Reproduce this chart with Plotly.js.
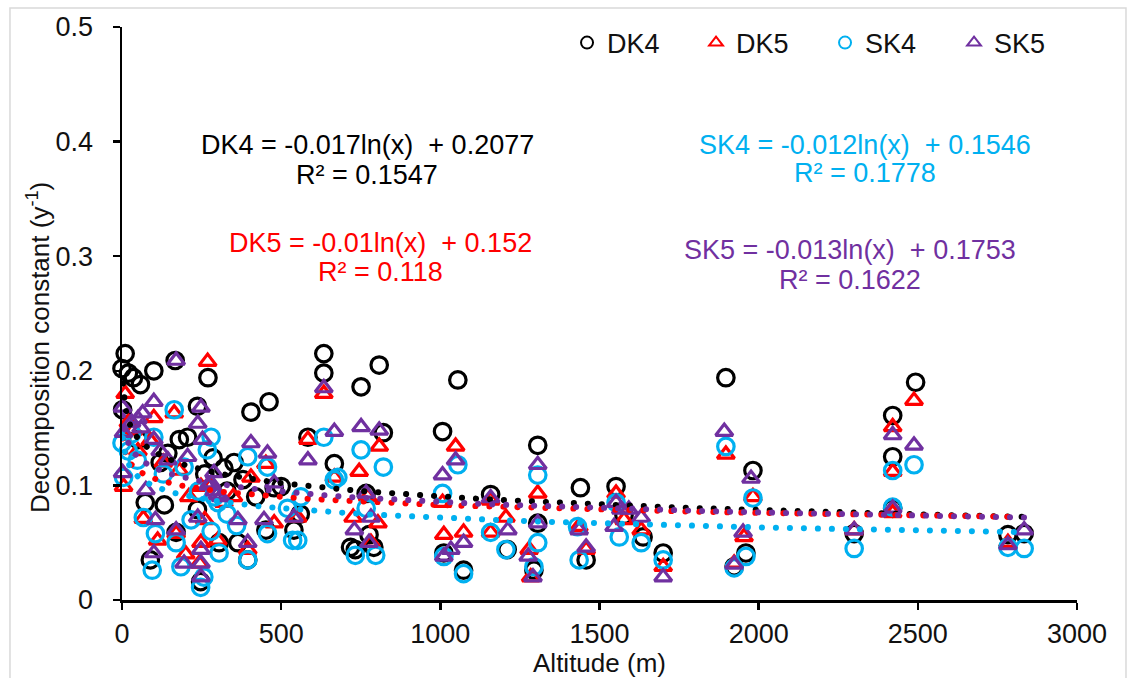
<!DOCTYPE html>
<html>
<head>
<meta charset="utf-8">
<script src="https://cdn.plot.ly/plotly-3.0.1.min.js"></script>
<style>
  html, body { margin: 0; padding: 0; background: #fff; }
  #plot { width: 1131px; height: 678px; }
  .scatterlayer .js-line { stroke-linecap: round; }
</style>
</head>
<body>
<div id="plot"></div>
<script>
// altitude (m) and decomposition constant (y-1)
var dk4Alt = [10,0,20,36,58,100,167,270,237,405,462,634,634,2,206,584,667,352,144,73,89,170,237,247,305,364,395,452,540,500,286,718,133,50,120,180,260,320,330,380,420,560,478,
  751,808,1055,1007,1306,821,767,1158,1440,733,791,1011,1073,1210,1294,1306,776,
  1552,1577,1637,1700,1897,1982,1923,1960,1458,
  2493,2421,2421,2300,2783,2834,2421];
var dk4K = [0.215,0.202,0.198,0.194,0.188,0.200,0.209,0.194,0.169,0.164,0.173,0.215,0.198,0.166,0.142,0.142,0.119,0.120,0.128,0.085,0.035,0.059,0.079,0.016,0.050,0.050,0.035,0.061,0.061,0.099,0.124,0.046,0.083,0.140,0.120,0.140,0.110,0.115,0.095,0.105,0.090,0.075,0.098,
  0.186,0.205,0.192,0.147,0.135,0.146,0.093,0.092,0.098,0.044,0.046,0.041,0.026,0.044,0.026,0.067,0.057,
  0.099,0.074,0.055,0.041,0.194,0.113,0.029,0.041,0.035,
  0.190,0.161,0.125,0.058,0.057,0.058,0.080];

var dk5Alt = [269,10,164,100,5,67,112,248,405,452,584,667,180,89,478,170,243,301,395,634,552,248,36,20,50,130,210,280,320,350,200,260,
  1048,745,808,1007,726,772,804,1206,1158,1306,1011,1073,1279,1284,782,1158,1435,
  1552,1897,1982,1954,1458,1631,1700,1577,1923,
  2488,2421,2421,2300,2783,2421];
var dk5K = [0.208,0.180,0.163,0.159,0.099,0.071,0.052,0.050,0.107,0.119,0.140,0.107,0.113,0.139,0.067,0.058,0.032,0.052,0.044,0.180,0.072,0.099,0.148,0.155,0.130,0.120,0.090,0.100,0.085,0.090,0.040,0.070,
  0.134,0.112,0.134,0.085,0.072,0.090,0.067,0.072,0.059,0.093,0.057,0.059,0.044,0.020,0.050,0.087,0.064,
  0.093,0.127,0.090,0.055,0.044,0.061,0.029,0.070,0.032,
  0.174,0.151,0.112,0.061,0.050,0.076];

var sk4Alt = [164,100,0,5,48,67,105,95,170,185,247,257,280,268,195,395,457,301,457,536,552,634,667,305,395,217,562,20,30,130,240,290,330,360,280,520,
  751,821,1007,1055,1306,767,1158,1206,1306,1294,733,797,1011,1073,1431,678,1436,
  1897,1982,1960,1923,1552,1562,1631,1700,
  2488,2421,2421,2300,2783,2834];
var sk4K = [0.166,0.142,0.137,0.107,0.122,0.072,0.058,0.026,0.050,0.029,0.011,0.020,0.142,0.131,0.116,0.125,0.116,0.085,0.058,0.052,0.052,0.142,0.105,0.041,0.035,0.070,0.090,0.130,0.145,0.110,0.095,0.090,0.075,0.065,0.060,0.080,
  0.131,0.116,0.093,0.118,0.109,0.080,0.059,0.044,0.050,0.029,0.039,0.039,0.038,0.023,0.064,0.107,0.035,
  0.134,0.089,0.038,0.028,0.085,0.055,0.050,0.035,
  0.118,0.113,0.081,0.045,0.046,0.045];

var sk5Alt = [170,100,248,238,65,2,100,253,405,457,5,2,75,105,100,170,195,248,248,248,289,280,290,206,144,238,364,395,446,540,584,634,667,478,30,50,60,270,300,310,120,
  751,808,1007,1048,1306,1158,1212,730,767,782,776,1033,1073,1011,1276,1291,1306,1436,
  1892,1976,1951,1923,1458,1552,1567,1592,1631,1700,1546,
  2488,2421,2421,2300,2783,2834];
var sk5K = [0.209,0.173,0.168,0.154,0.163,0.168,0.140,0.140,0.137,0.128,0.146,0.111,0.096,0.070,0.041,0.061,0.032,0.044,0.032,0.020,0.111,0.102,0.095,0.125,0.122,0.072,0.070,0.050,0.070,0.072,0.122,0.185,0.147,0.102,0.155,0.158,0.150,0.100,0.092,0.090,0.130,
  0.151,0.148,0.109,0.122,0.118,0.089,0.061,0.061,0.093,0.072,0.050,0.044,0.050,0.038,0.038,0.020,0.067,0.061,
  0.147,0.106,0.059,0.031,0.046,0.085,0.079,0.079,0.072,0.020,0.064,
  0.135,0.144,0.080,0.061,0.048,0.061];

// log trendlines as printed on the chart: k = a*ln(x) + b
var seriesNames = ['DK4', 'DK5', 'SK4', 'SK5'];
var trendA = [-0.017, -0.01, -0.012, -0.013];
var trendB = [0.2077, 0.152, 0.1546, 0.1753];
var r2Text = ['0.1547', '0.118', '0.1778', '0.1622'];
var eqText = ['-0.017ln(x)', '-0.01ln(x)', '-0.012ln(x)', '-0.013ln(x)'];
var eqConst = ['0.2077', '0.152', '0.1546', '0.1753'];

var colors = ['#000000', '#ff0000', '#00b0f0', '#7030a0'];
var symbols = ['circle-open', 'triangle-up-open', 'circle-open', 'triangle-up-open'];
var alts = [dk4Alt, dk5Alt, sk4Alt, sk5Alt];
var ks = [dk4K, dk5K, sk4K, sk5K];

var FONT = 'Liberation Sans, Arial, sans-serif';

function trendXs(x0, x1) {
  var xs = [];
  for (var i = 0; i <= 80; i++) xs.push(x0 * Math.pow(x1 / x0, i / 80));
  return xs;
}

var traces = [];
for (var i = 0; i < 4; i++) {
  traces.push({
    x: alts[i], y: ks[i], name: seriesNames[i],
    type: 'scatter', mode: 'markers', cliponaxis: false,
    marker: { symbol: symbols[i], size: i % 2 ? 15 : 16.5, color: colors[i],
              line: { color: colors[i], width: 3.2 } }
  });
}
for (var j = 0; j < 4; j++) {
  var xs = trendXs(3, Math.max.apply(null, alts[j]));
  var ys = xs.map(function (v) { return trendA[j] * Math.log(v) + trendB[j]; });
  traces.push({
    x: xs, y: ys, type: 'scatter', mode: 'lines', showlegend: false,
    hoverinfo: 'skip', cliponaxis: false,
    line: { color: colors[j], width: 6, dash: '0.1px,13.9px' }
  });
}

// equation labels (centre x in data units, two lines)
var eqX = [771, 811, 2335, 2288];
var eqY1 = [0.397, 0.3115, 0.397, 0.3054];
var eqY2 = [0.371, 0.286, 0.3726, 0.2792];
var annotations = [];
for (var a = 0; a < 4; a++) {
  annotations.push({ x: eqX[a], y: eqY1[a], xref: 'x', yref: 'y', showarrow: false,
    text: seriesNames[a] + ' = ' + eqText[a] + '\u00a0 + ' + eqConst[a],
    font: { family: FONT, size: 27, color: colors[a] } });
  annotations.push({ x: eqX[a], y: eqY2[a], xref: 'x', yref: 'y', showarrow: false,
    text: 'R\u00b2 = ' + r2Text[a],
    font: { family: FONT, size: 27, color: colors[a] } });
}
// y axis title, placed like the original (centred a little below the plot middle)
annotations.push({ x: -0.088, y: 0.4415, xref: 'paper', yref: 'paper', showarrow: false,
  xanchor: 'center', yanchor: 'middle',
  textangle: -90, text: 'Decomposition constant (y<sup>-1</sup>)',
  font: { family: FONT, size: 26, color: '#111' } });

var layout = {
  width: 1131, height: 678,
  margin: { l: 122, r: 54, t: 27, b: 78, pad: 0 },
  paper_bgcolor: '#fff', plot_bgcolor: '#fff',
  font: { family: FONT, size: 27, color: '#111' },
  showlegend: true,
  legend: { orientation: 'h', x: 0.466, xanchor: 'left', y: 0.972, yanchor: 'middle',
            font: { family: FONT, size: 27, color: '#111' }, itemsizing: 'constant',
            entrywidth: 84, bgcolor: 'rgba(0,0,0,0)' },
  xaxis: {
    range: [0, 3000], dtick: 500, tick0: 0, showgrid: false, zeroline: false,
    showline: true, linecolor: '#000', linewidth: 2.5,
    ticks: 'outside', ticklen: 7, tickwidth: 2.5, tickcolor: '#000',
    ticklabelstandoff: 1,
    title: { text: 'Altitude (m)', font: { family: FONT, size: 26 }, standoff: 0 }
  },
  yaxis: {
    range: [0, 0.5], dtick: 0.1, tick0: 0, showgrid: false, zeroline: false,
    showline: true, linecolor: '#000', linewidth: 2.5,
    ticks: 'outside', ticklen: 7, tickwidth: 2.5, tickcolor: '#000',
    ticklabelstandoff: 14
  },
  annotations: annotations,
  shapes: [{ type: 'rect', xref: 'paper', yref: 'paper', x0: -0.1173, x1: 1.0513, y0: -0.1745, y1: 1.0332,
             line: { color: '#d9d9d9', width: 1.5 }, fillcolor: 'rgba(0,0,0,0)', layer: 'below' }]
};

Plotly.newPlot('plot', traces, layout, { staticPlot: true });
</script>
</body>
</html>
